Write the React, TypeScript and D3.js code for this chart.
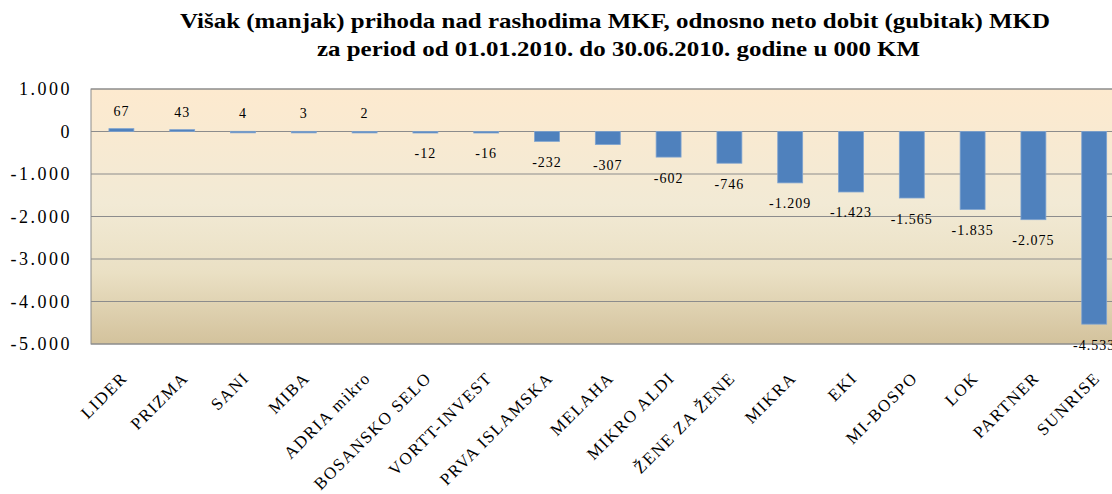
import React from "react";
import * as d3 from "d3";

const categories = [
  "LIDER", "PRIZMA", "SANI", "MIBA", "ADRIA mikro", "BOSANSKO SELO", "VORTT-INVEST",
  "PRVA ISLAMSKA", "MELAHA", "MIKRO ALDI", "ŽENE ZA ŽENE", "MIKRA", "EKI", "MI-BOSPO",
  "LOK", "PARTNER", "SUNRISE",
];
const values = [67, 43, 4, 3, 2, -12, -16, -232, -307, -602, -746, -1209, -1423, -1565, -1835, -2075, -4533];
const yTicks = [1000, 0, -1000, -2000, -3000, -4000, -5000];
const titleLines = [
  "Višak (manjak) prihoda nad rashodima MKF, odnosno neto dobit (gubitak) MKD",
  "za period od 01.01.2010. do 30.06.2010. godine u 000 KM",
];

// 1.000 / -1.209 style numbers
const fmt = (v: number) => {
  const s = Math.abs(v).toString().replace(/\B(?=(\d{3})+(?!\d))/g, ".");
  return (v < 0 ? "-" : "") + s;
};

const W = 1112;
const H = 494;
const serif = "Liberation Serif";

export default function App() {
  const left = 91;
  const top = 89;
  const bottom = 344;
  const step = 60.8;
  const right = left + step * categories.length;

  const x = d3.scaleBand<string>().domain(categories).range([left, right]).padding(0);
  const y = d3.scaleLinear().domain([-5000, 1000]).range([bottom, top]);
  const barW = x.bandwidth() * 0.41;

  return (
    <svg width={W} height={H} style={{ position: "absolute", left: 0, top: 0, background: "#fff" }}>
      <defs>
        <linearGradient id="bg" x1="0" y1="0" x2="0" y2="1">
          <stop offset="0%" stopColor="#FDEACF" />
          <stop offset="45%" stopColor="#F2EAD5" />
          <stop offset="72%" stopColor="#EAE0C4" />
          <stop offset="100%" stopColor="#D3C29C" />
        </linearGradient>
      </defs>

      {/* title */}
      <text x={180} y={28} textLength={870} lengthAdjust="spacingAndGlyphs"
        fontFamily={serif} fontSize={21} fontWeight="bold">{titleLines[0]}</text>
      <text x={317} y={56} textLength={603} lengthAdjust="spacingAndGlyphs"
        fontFamily={serif} fontSize={21} fontWeight="bold">{titleLines[1]}</text>

      {/* plot area */}
      <rect x={left} y={top} width={right - left} height={bottom - top} fill="url(#bg)" stroke="#8c8c8c" />

      {yTicks.map((t) => (
        <g key={t}>
          <line x1={left} x2={right} y1={y(t)} y2={y(t)} stroke="#8c8c8c" />
          <text x={72} y={y(t)} dy="0.36em" textAnchor="end"
            fontFamily={serif} fontSize={18} letterSpacing={2.5}>{fmt(t)}</text>
        </g>
      ))}

      {categories.map((c, i) => {
        const v = values[i];
        const cx = x(c)! + x.bandwidth() / 2;
        const y0 = y(0);
        const y1 = y(v);
        return (
          <g key={c}>
            <rect x={cx - barW / 2} y={Math.min(y0, y1)} width={barW} height={Math.max(Math.abs(y1 - y0), 1.5)}
              fill="#4F81BD" stroke="#7EA3D0" strokeWidth={0.8} />
            <text x={cx} y={v >= 0 ? y1 - 13 : y1 + 25.5} textAnchor="middle"
              fontFamily={serif} fontSize={14} letterSpacing={1}>{fmt(v)}</text>
            <text transform={`translate(${cx + 7},379) rotate(-45)`} textAnchor="end"
              fontFamily={serif} fontSize={17} letterSpacing={1.5}>{c}</text>
          </g>
        );
      })}
    </svg>
  );
}
